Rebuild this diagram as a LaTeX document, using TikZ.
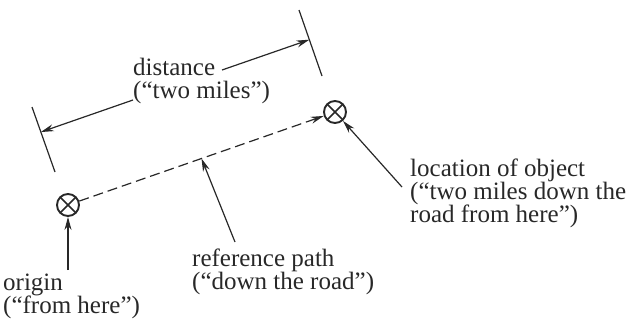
\documentclass[tikz,border=0pt]{standalone}
\usepackage{fontspec}
\setmainfont{Liberation Serif}
\usetikzlibrary{arrows.meta,calc}
\definecolor{ink}{RGB}{40,40,40}
\begin{document}
\begin{tikzpicture}[x=1bp,y=-1bp,
  every node/.style={text=ink},
  conn/.style={draw=ink,line width=1.2bp,-{Stealth[length=13bp,width=7bp]}},
  tick/.style={draw=ink,line width=1.2bp},
  marker/.style={circle,draw=ink,line width=1.9bp,minimum size=22bp,inner sep=0pt,
    path picture={\draw[ink,line width=1.7bp]
      (path picture bounding box.north west) -- (path picture bounding box.south east)
      (path picture bounding box.north east) -- (path picture bounding box.south west);}},
  lbl/.style={anchor=base west,inner sep=0pt,align=left,font=\fontsize{25bp}{23bp}\selectfont}]
\useasboundingbox (0,0) rectangle (628,323);
% markers
\node[marker] (orig) at (68,205) {};
\node[marker] (obj) at (335,112) {};
% labels (base anchor is the last line)
\node[lbl] (dist) at (133,98) {distance\\(“two miles”)};
\node[lbl] (loc) at (410,222) {location of object\\(“two miles down the\\road from here”)};
\node[lbl] (refp) at (192,289) {reference path\\(“down the road”)};
\node[lbl] (origl) at (3,313) {origin\\(“from here”)};
% ticks
\coordinate (tl1) at (32,107);
\coordinate (tl2) at (55,172);
\coordinate (tr1) at (299,10);
\coordinate (tr2) at (322,76);
\draw[tick] (tl1) -- (tl2);
\draw[tick] (tr1) -- (tr2);
% distance arrows
\coordinate (d1) at (222,70);
\coordinate (d2) at (133,100);
\draw[conn] (d1) -- ($(tr1)!0.45!(tr2)$);
\draw[conn] (d2) -- ($(tl1)!0.385!(tl2)$);
% reference path
\draw[conn,dash pattern=on 10bp off 5bp] (orig) -- (obj);
\coordinate (r1) at (235,242);
\draw[conn] (r1) -- ($(orig)!0.5!(obj)$);
% origin arrow
\coordinate (o1) at (68,270);
\draw[conn] (o1) -- (orig.south);
% object arrow
\coordinate (l1) at (402,187);
\draw[conn] (l1) -- (obj);
\end{tikzpicture}
\end{document}
